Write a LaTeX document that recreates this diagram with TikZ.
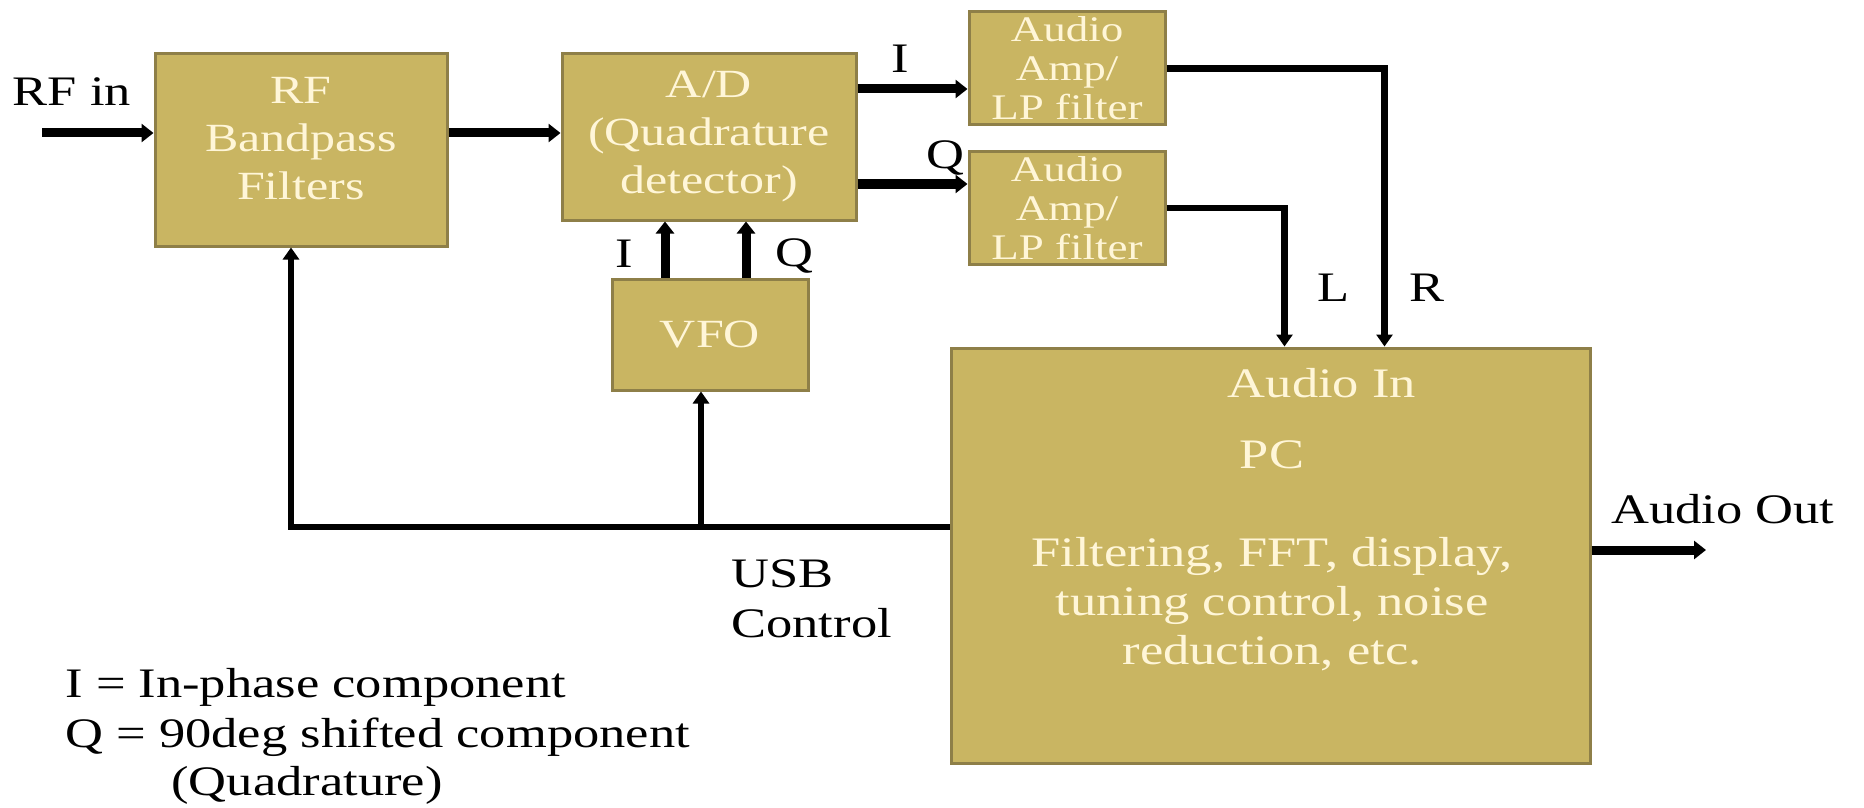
\documentclass[tikz,border=0pt]{standalone}
\usepackage{fontspec}
\setmainfont{Liberation Serif}[FakeStretch=1.25]
\usepackage{tikz}
\usetikzlibrary{arrows.meta, positioning, calc}
\definecolor{sdrGold}{HTML}{C9B562}
\definecolor{sdrEdge}{HTML}{8E7F48}
\definecolor{sdrText}{HTML}{FFF6D8}
\tikzset{
  sdrbox/.style={rectangle, draw=sdrEdge, line width=1.5pt, fill=sdrGold, text=sdrText,
                 align=center, inner sep=0pt, font=\fontsize{20}{24}\selectfont},
  sdrinner/.style={text=sdrText, align=center, inner sep=0pt, font=\fontsize{21}{24.5}\selectfont},
  sdrlabel/.style={inner sep=0pt, align=left, font=\fontsize{21}{25}\selectfont},
  sdrflow/.style={-{Triangle[length=6pt,width=9pt]}, line width=4.5pt},
  sdrctl/.style={-{Triangle[length=6pt,width=8pt]}, line width=3.4pt},
}

\begin{document}
\begin{tikzpicture}[x=0.5pt, y=-0.5pt]
  \useasboundingbox (0,0) rectangle (1864,808);
  % blocks
  \node[sdrbox, minimum width=146pt, minimum height=96pt, text depth=12pt](rf) at (301,150){RF\\Bandpass\\Filters};
  \node[sdrbox, minimum width=147pt, minimum height=83pt](ad) at (709,137){A/D\\(Quadrature\\detector)};
  \node[sdrbox, minimum width=98pt, minimum height=56.5pt, font=\fontsize{18}{19.5}\selectfont](ampI) at (1067,68.5){Audio\\Amp/\\LP filter};
  \node[sdrbox, minimum width=98pt, minimum height=56pt, font=\fontsize{18}{19.5}\selectfont](ampQ) at (1067,208){Audio\\Amp/\\LP filter};
  \node[sdrbox, minimum width=98pt, minimum height=55.5pt](vfo) at (710,334.5){VFO};
  \node[sdrbox, minimum width=319.5pt, minimum height=207.5pt](pc) at (1270.5,555.5){};
  \node[sdrinner](audioin) at (1322,383){Audio In};
  \node[sdrinner](pcname) at (1272,455){PC};
  \node[sdrinner](pctasks) at (1272,604){Filtering, FFT, display,\\tuning control, noise\\reduction, etc.};
  % labels
  \node[sdrlabel](rfin) at (72,92){RF in};
  \node[sdrlabel](lblI) at (900,59){I};
  \node[sdrlabel](lblQ) at (945,158){Q};
  \node[sdrlabel](lblVI) at (624,254){I};
  \node[sdrlabel](lblVQ) at (794,256){Q};
  \node[sdrlabel](lblL) at (1334,288){L};
  \node[sdrlabel](lblR) at (1427,288){R};
  \node[sdrlabel, anchor=west](usb) at (731,599){USB\\Control};
  \node[sdrlabel, anchor=west](audioout) at (1611,509){Audio Out};
  \node[sdrlabel, anchor=west](legend) at (65,712){I = In-phase component\\Q = 90deg shifted component};
  \node[sdrlabel](legendq) at (307,785){(Quadrature)};
  % signal path
  \coordinate (rfsrc) at (42,133);
  \coordinate (iy) at (0,89);
  \coordinate (qy) at (0,184);
  \draw[sdrflow](rfsrc)--(rfsrc -| rf.west);
  \draw[sdrflow](rfsrc -| rf.east)--(rfsrc -| ad.west);
  \draw[sdrflow](ad.east |- iy)--(ampI.west |- iy);
  \draw[sdrflow](ad.east |- qy)--(ampQ.west |- qy);
  \coordinate (vI) at ($(vfo.north)+(-45,0)$);
  \coordinate (vQ) at ($(vfo.north)+(36,0)$);
  \draw[sdrflow](vI)--(vI |- ad.south);
  \draw[sdrflow](vQ)--(vQ |- ad.south);
  \draw[sdrctl](ampI.east)-|([xshift=57pt]pc.north);
  \draw[sdrctl](ampQ.east)-|([xshift=7pt]pc.north);
  \coordinate (aout) at (1706,550);
  \draw[sdrflow](pc.east |- aout)--(aout);
  % usb control
  \coordinate (usbtap) at (701,527);
  \draw[sdrctl](pc.west |- usbtap)-|([xshift=-5pt]rf.south);
  \draw[sdrctl](usbtap)--(vfo.south -| usbtap);
\end{tikzpicture}
\end{document}
